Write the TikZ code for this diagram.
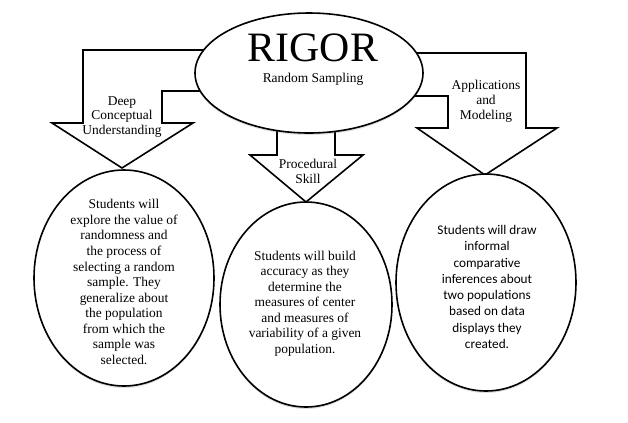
\documentclass[tikz,border=0pt]{standalone}
\usepackage{fontspec}
\setmainfont{Liberation Serif}
\newfontfamily\bodyfont{Carlito}
\usepackage{tikz}
\usetikzlibrary{shapes.geometric}
\usetikzlibrary{shadows}

\begin{document}
\begin{tikzpicture}[x=1bp, y=-1bp, line width=1.6bp,
    bubble/.style={ellipse, draw, fill=white, inner sep=0pt,
        drop shadow={shadow xshift=0bp, shadow yshift=-2bp, opacity=0.25}},
    blockarrow/.style={draw, fill=white, line join=miter},
    caption/.style={align=center, font=\fontsize{13.5}{15}\selectfont},
    bodytext/.style={align=center, font=\fontsize{13.5}{15.6}\selectfont}]
\useasboundingbox (0, 0) rectangle (628, 422);

\filldraw [blockarrow] (215, 50) -- (83, 50) -- (83, 123) -- (52, 123) -- (122, 168)
    -- (193, 123) -- (162, 123) -- (162, 91) -- (215, 91) -- cycle;
\filldraw [blockarrow] (277, 120) -- (277, 155) -- (250, 155) -- (306, 202)
    -- (363, 155) -- (335, 155) -- (335, 120) -- cycle;
\filldraw [blockarrow] (400, 53) -- (526, 53) -- (526, 128) -- (557, 128) -- (485, 175)
    -- (417, 128) -- (448, 128) -- (448, 96) -- (400, 96) -- cycle;

\node [bubble, minimum width=228bp, minimum height=120bp] (rigor) at (309, 73) {};
\node (title) at (313, 48) {\fontsize{42}{42}\selectfont RIGOR};
\node [anchor=base, font=\fontsize{13.5}{15}\selectfont] (subtitle) at (313, 82) {Random Sampling};

\node [caption] (deep) at (122, 117) {Deep\\Conceptual\\Understanding};
\node [caption] (proc) at (308, 171.5) {Procedural\\Skill};
\node [caption] (appl) at (486, 101.5) {Applications\\and\\Modeling};

\node [bubble, minimum width=180bp, minimum height=216bp] (left) at (124, 278) {};
\node [bubble, minimum width=172bp, minimum height=205bp] (middle) at (306, 304.5) {};
\node [bubble, minimum width=180bp, minimum height=217bp] (right) at (486, 282.5) {};

\node [bodytext] (lefttext) at (124, 282) {Students will\\explore the value of\\randomness and\\the process of\\selecting a random\\sample. They\\generalize about\\the population\\from which the\\sample was\\selected.};
\node [bodytext] (middletext) at (305, 303.5) {Students will build\\accuracy as they\\determine the\\measures of center\\and measures of\\variability of a given\\population.};
\node [align=center, font=\bodyfont\fontsize{13.3}{16.3}\selectfont] (righttext) at (487, 287) {Students will draw\\informal\\comparative\\inferences about\\two populations\\based on data\\displays they\\created.};
\end{tikzpicture}
\end{document}
